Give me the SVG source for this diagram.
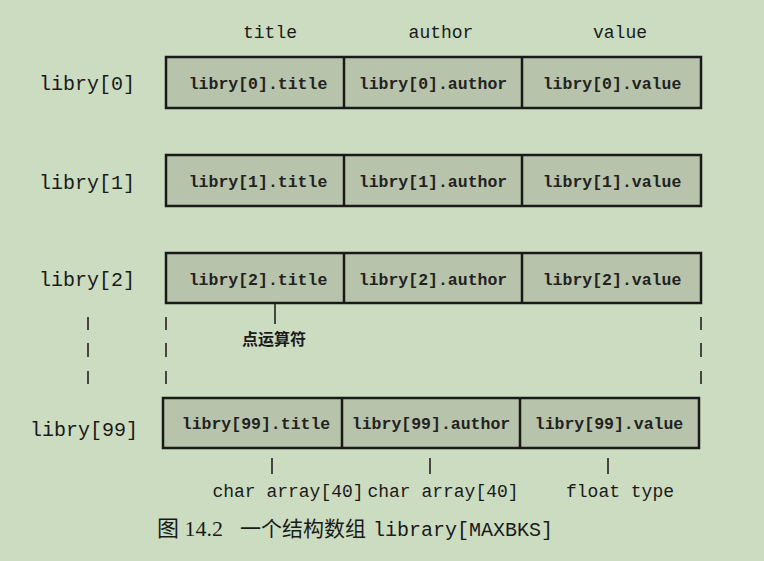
<svg xmlns="http://www.w3.org/2000/svg" width="764" height="561" viewBox="0 0 764 561">
<style>
.bg{fill:#cbdcc1}
.cell{fill:#b7c3aa;stroke:#1a1a1a;stroke-width:2.5}
.div{stroke:#1a1a1a;stroke-width:2.5}
.ct{font-family:"Liberation Mono",monospace;font-weight:bold;font-size:16.5px;fill:#222;text-anchor:middle}
.lab{font-family:"Liberation Mono",monospace;font-size:20px;fill:#1a1a1a;text-anchor:middle}
.hd{font-family:"Liberation Mono",monospace;font-size:18px;fill:#1a1a1a;text-anchor:middle}
.ln{stroke:#222;stroke-width:1.6;fill:none}
.cap{font-family:"Liberation Serif","Noto Sans CJK SC",serif;font-size:22px;fill:#1a1a1a}
</style>
<rect class="bg" x="0" y="0" width="764" height="561"/>
<g id="headers">
<text class="hd" x="270" y="38">title</text>
<text class="hd" x="441" y="38">author</text>
<text class="hd" x="620" y="38">value</text>
</g>
<g id="row0">
<text class="lab" x="87" y="90">libry[0]</text>
<rect class="cell" x="166" y="57" width="535" height="51"/>
<line class="div" x1="344" y1="57" x2="344" y2="108"/>
<line class="div" x1="522" y1="57" x2="522" y2="108"/>
<text class="ct" x="258" y="89">libry[0].title</text>
<text class="ct" x="433" y="89">libry[0].author</text>
<text class="ct" x="612" y="89">libry[0].value</text>
</g>
<g id="row1">
<text class="lab" x="87" y="189">libry[1]</text>
<rect class="cell" x="166" y="155" width="535" height="51"/>
<line class="div" x1="344" y1="155" x2="344" y2="206"/>
<line class="div" x1="522" y1="155" x2="522" y2="206"/>
<text class="ct" x="258" y="187">libry[1].title</text>
<text class="ct" x="433" y="187">libry[1].author</text>
<text class="ct" x="612" y="187">libry[1].value</text>
</g>
<g id="row2">
<text class="lab" x="87" y="286">libry[2]</text>
<rect class="cell" x="166" y="253" width="535" height="50"/>
<line class="div" x1="344" y1="253" x2="344" y2="303"/>
<line class="div" x1="522" y1="253" x2="522" y2="303"/>
<text class="ct" x="258" y="285">libry[2].title</text>
<text class="ct" x="433" y="285">libry[2].author</text>
<text class="ct" x="612" y="285">libry[2].value</text>
</g>
<g id="row99">
<text class="lab" x="84" y="436">libry[99]</text>
<rect class="cell" x="163" y="398" width="536" height="50"/>
<line class="div" x1="342" y1="398" x2="342" y2="448"/>
<line class="div" x1="520" y1="398" x2="520" y2="448"/>
<text class="ct" x="256" y="429">libry[99].title</text>
<text class="ct" x="431" y="429">libry[99].author</text>
<text class="ct" x="609" y="429">libry[99].value</text>
</g>
<g id="connectors">
<line class="ln" x1="88" y1="317" x2="88" y2="330"/>
<line class="ln" x1="88" y1="343" x2="88" y2="357"/>
<line class="ln" x1="88" y1="371" x2="88" y2="384"/>
<line class="ln" x1="166" y1="317" x2="166" y2="330"/>
<line class="ln" x1="166" y1="343" x2="166" y2="357"/>
<line class="ln" x1="166" y1="371" x2="166" y2="384"/>
<line class="ln" x1="701" y1="317" x2="701" y2="330"/>
<line class="ln" x1="701" y1="343" x2="701" y2="357"/>
<line class="ln" x1="701" y1="371" x2="701" y2="384"/>
<line class="ln" x1="275" y1="303" x2="275" y2="324"/>
<line class="ln" x1="272" y1="458" x2="272" y2="474"/>
<line class="ln" x1="430" y1="458" x2="430" y2="474"/>
<line class="ln" x1="608" y1="458" x2="608" y2="474"/>
</g>
<g id="dot-operator">
<text x="274" y="345" style="font-family:'Noto Sans CJK SC',sans-serif;font-weight:bold;font-size:16px;fill:#1a1a1a;text-anchor:middle">点运算符</text>
</g>
<g id="types">
<text class="hd" x="288" y="497">char array[40]</text>
<text class="hd" x="443" y="497">char array[40]</text>
<text class="hd" x="620" y="497">float type</text>
</g>
<g id="caption">
<text class="cap" x="157" y="536">图 14.2</text>
<text class="cap" x="240" y="536" style="font-family:'Noto Sans CJK SC',serif;font-size:21px">一个结构数组</text>
<text class="cap" x="373" y="536" style="font-family:'Liberation Mono',monospace;font-size:20px">library[MAXBKS]</text>
</g>
</svg>
